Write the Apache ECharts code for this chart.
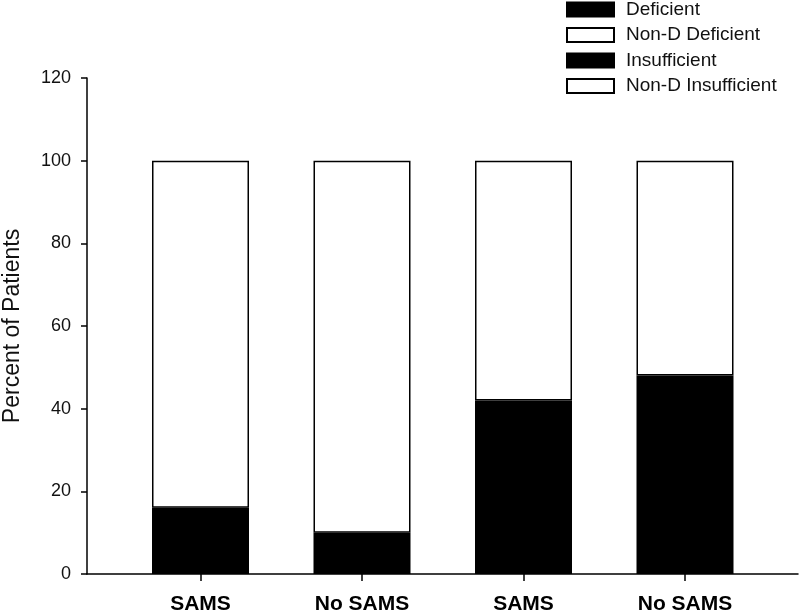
<!DOCTYPE html>
<html>
<head>
<meta charset="utf-8">
<script src="https://cdn.jsdelivr.net/npm/echarts@6/dist/echarts.min.js"></script>
<style>html,body{margin:0;padding:0;background:#fff}#c{width:800px;height:616px}</style>
</head>
<body>
<div id="c"></div>
<script>
var categories = ['SAMS', 'No SAMS', 'SAMS', 'No SAMS'];
var deficient = [16, 10, null, null];
var nonDDeficient = [84, 90, null, null];
var insufficient = [null, null, 42, 48];
var nonDInsufficient = [null, null, 58, 52];
var yTicks = [0, 20, 40, 60, 80, 100, 120];

var chart = echarts.init(document.getElementById('c'));
var font = 'Liberation Sans, Arial, sans-serif';
function barSeries(name, vals, fill) {
  return {
    name: name,
    type: 'bar',
    stack: 'all',
    barWidth: 97,
    xAxisIndex: 1,
    yAxisIndex: 1,
    data: vals,
    itemStyle: { color: fill, borderColor: '#000', borderWidth: 1.5 },
    emphasis: { disabled: true }
  };
}
chart.setOption({
  animation: false,
  backgroundColor: '#fff',
  grid: [
    { left: 87, right: 2, top: 78, bottom: 42, containLabel: false, outerBoundsMode: 'none' },
    { left: 119.75, right: 34.25, top: 78, bottom: 42, containLabel: false, outerBoundsMode: 'none' }
  ],
  legend: {
    orient: 'vertical',
    left: 566,
    top: 0,
    padding: 0,
    icon: 'rect',
    itemWidth: 47,
    itemHeight: 14,
    itemGap: 6.5,
    textStyle: { fontFamily: font, fontSize: 19, color: '#111', padding: [0, 0, 0, 7] },
    data: ['Deficient', 'Non-D Deficient', 'Insufficient', 'Non-D Insufficient']
  },
  xAxis: [
    {
      gridIndex: 0,
      type: 'value',
      min: 0,
      max: 1,
      splitLine: { show: false },
      axisLine: { show: true, lineStyle: { color: '#000', width: 1.5 } },
      axisTick: { show: false },
      axisLabel: { show: false }
    },
    {
      gridIndex: 1,
      type: 'category',
      data: categories,
      axisLine: { show: false },
      axisTick: { show: true, alignWithLabel: true, length: 7, lineStyle: { color: '#000', width: 1.5 } },
      axisLabel: { margin: 20, fontFamily: font, fontSize: 21, fontWeight: 'bold', color: '#000' }
    }
  ],
  yAxis: [
    {
      gridIndex: 0,
      type: 'value',
      min: 0,
      max: 120,
      interval: 20,
      name: 'Percent of Patients',
      nameLocation: 'middle',
      nameGap: 63,
      nameTextStyle: { fontFamily: font, fontSize: 23, color: '#111' },
      splitLine: { show: false },
      axisLine: { show: true, lineStyle: { color: '#000', width: 1.5 } },
      axisTick: { show: true, length: 6, lineStyle: { color: '#000', width: 1.5 } },
      axisLabel: {
        margin: 16, fontFamily: font, fontSize: 18, color: '#111',
        formatter: function (v) { return yTicks.indexOf(v) >= 0 ? String(v) : ''; }
      }
    },
    {
      gridIndex: 1,
      type: 'value',
      min: 0,
      max: 120,
      show: false
    }
  ],
  series: [
    barSeries('Deficient', deficient, '#000'),
    barSeries('Non-D Deficient', nonDDeficient, '#fff'),
    barSeries('Insufficient', insufficient, '#000'),
    barSeries('Non-D Insufficient', nonDInsufficient, '#fff')
  ]
});
</script>
</body>
</html>
